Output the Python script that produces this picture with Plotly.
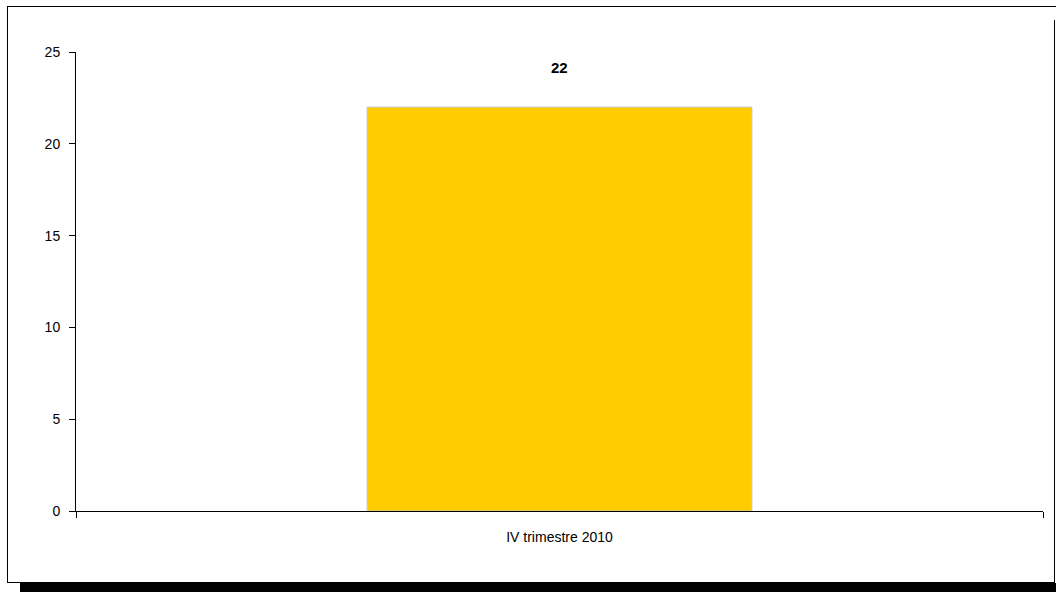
import plotly.graph_objects as go

categories = ["IV trimestre 2010"]
values = [22]
bar_labels = ["22"]
y_ticks = [0, 5, 10, 15, 20, 25]

W, H = 1056, 592
L, R, T, B = 76, 1043, 52, 511


def px(x):
    return (x - L) / (R - L)


def py(y):
    return (B - y) / (B - T)


fig = go.Figure()
fig.add_trace(go.Bar(
    x=categories, y=values,
    marker=dict(color="#FFCC00", line=dict(color="#C8C8C8", width=1)),
    width=0.398,
    hoverinfo="skip",
))

for c, v, t in zip(categories, values, bar_labels):
    fig.add_annotation(x=c, y=v, text=f"<b>{t}</b>",
                       showarrow=False, yshift=40,
                       font=dict(family="Liberation Sans, Arial", size=15, color="black"))

line = dict(color="black", width=1)
shapes = [
    dict(type="line", xref="paper", yref="paper", x0=px(7), x1=px(1056), y0=py(6.5), y1=py(6.5), line=line),
    dict(type="line", xref="paper", yref="paper", x0=px(7.5), x1=px(7.5), y0=py(6), y1=py(583), line=line),
    dict(type="line", xref="paper", yref="paper", x0=px(7), x1=px(1055), y0=py(582.5), y1=py(582.5), line=line),
    dict(type="line", xref="paper", yref="paper", x0=px(1054.5), x1=px(1054.5), y0=py(20), y1=py(583), line=line),
    dict(type="rect", xref="paper", yref="paper", x0=px(20), x1=px(1056), y0=py(583), y1=py(592),
         fillcolor="black", line=dict(width=0)),
]

fig.update_layout(
    width=W, height=H,
    margin=dict(l=L, r=W - R, t=T, b=H - B, pad=0),
    paper_bgcolor="white", plot_bgcolor="white",
    showlegend=False,
    shapes=shapes,
    font=dict(family="Liberation Sans, Arial", size=14, color="black"),
    xaxis=dict(
        type="category", showline=True, linecolor="black", linewidth=1,
        ticks="outside", tickson="boundaries", ticklen=6, tickcolor="black",
        showgrid=False, zeroline=False, range=[-0.5, 0.5],
        tickfont=dict(size=14), ticklabelstandoff=13,
    ),
    yaxis=dict(
        range=[0, 25], tickvals=y_ticks, showline=True, linecolor="black", linewidth=1,
        ticks="outside", ticklen=6, tickcolor="black", showgrid=False, zeroline=False,
        ticklabelstandoff=6, tickfont=dict(size=14),
    ),
)

fig.write_html("out.html", config={"displayModeBar": False, "staticPlot": True},
               post_script="document.body.style.margin='0';document.body.style.overflow='hidden';")
